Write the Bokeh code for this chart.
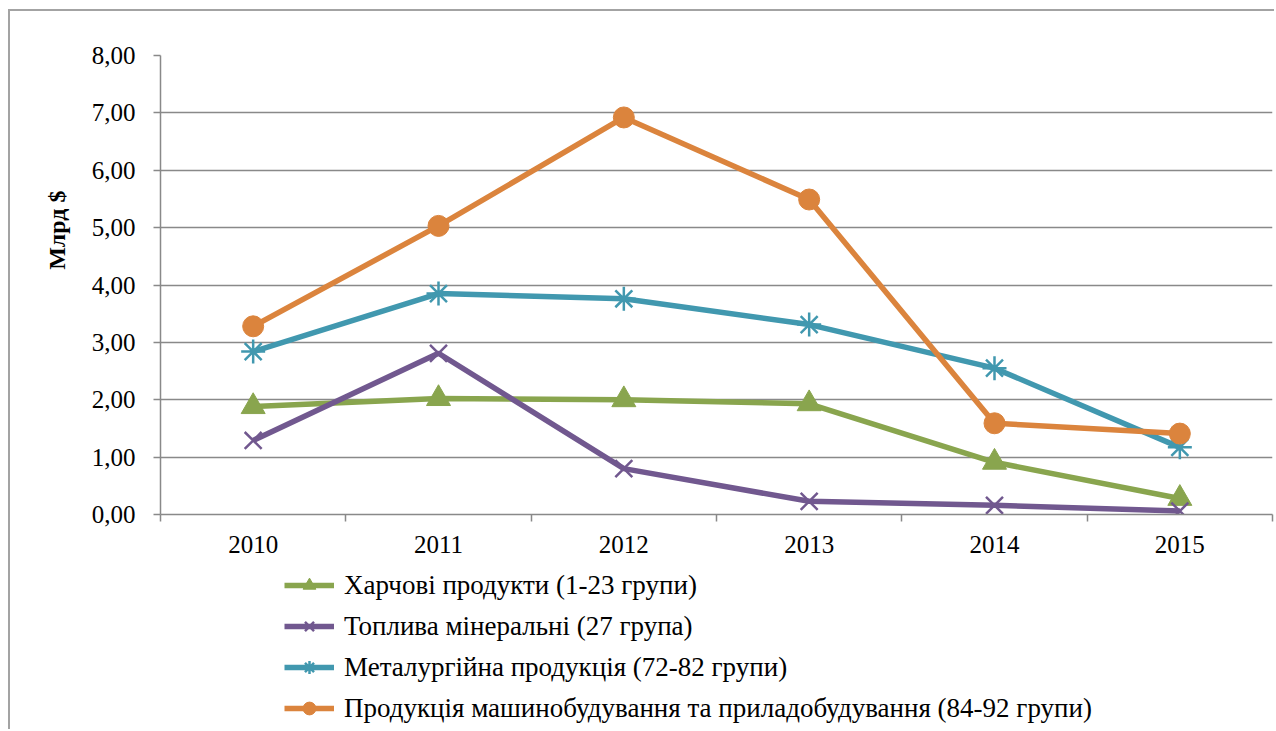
from bokeh.plotting import figure
from bokeh.models import FixedTicker, Legend, LegendItem, Title
from bokeh.layouts import column
from bokeh.embed import file_html
from bokeh.resources import INLINE

years = ["2010", "2011", "2012", "2013", "2014", "2015"]
food = [1.88, 2.02, 2.00, 1.93, 0.91, 0.28]
fuel = [1.29, 2.81, 0.80, 0.23, 0.16, 0.06]
metal = [2.84, 3.85, 3.76, 3.31, 2.55, 1.17]
machinery = [3.28, 5.03, 6.92, 5.49, 1.59, 1.41]
y_ticks = [0, 1, 2, 3, 4, 5, 6, 7, 8]
y_tick_labels = ["0,00", "1,00", "2,00", "3,00", "4,00", "5,00", "6,00", "7,00", "8,00"]
series_names = ["Харчові продукти (1-23 групи)",
                "Топлива мінеральні (27 група)",
                "Металургійна продукція (72-82 групи)",
                "Продукція машинобудування та приладобудування (84-92 групи)"]
y_label = "Млрд $"

FONT = "Liberation Serif"
GRAY = "#898989"

W = 1264
H1, H2 = 555, 163
left, top, bottom, right = 150, 44, 52, 2
x_idx = list(range(len(years)))

p = figure(width=W, height=H1, output_backend="svg", toolbar_location=None,
           x_range=(-0.5, len(years) - 0.5), y_range=(y_ticks[0], y_ticks[-1]),
           min_border_left=left, min_border_right=right, min_border_top=top,
           min_border_bottom=bottom)
p.outline_line_color = None
p.background_fill_color = "white"

# y axis
p.yaxis.ticker = FixedTicker(ticks=y_ticks, minor_ticks=[])
p.yaxis.major_label_overrides = {t: l for t, l in zip(y_ticks, y_tick_labels)}
p.yaxis.axis_line_color = GRAY
p.yaxis.axis_line_width = 1.5
p.yaxis.major_tick_line_color = GRAY
p.yaxis.major_tick_line_width = 1.5
p.yaxis.major_tick_out = 7
p.yaxis.major_tick_in = 0
p.yaxis.minor_tick_line_color = None
p.yaxis.major_label_text_font = FONT
p.yaxis.major_label_text_font_size = "25px"
p.yaxis.major_label_text_color = "black"
p.yaxis.major_label_standoff = 18

# x axis
p.xaxis.ticker = FixedTicker(ticks=x_idx, minor_ticks=[i - 0.5 for i in x_idx] + [len(years) - 0.5])
p.xaxis.major_label_overrides = {i: y for i, y in zip(x_idx, years)}
p.xaxis.axis_line_color = GRAY
p.xaxis.axis_line_width = 1.5
p.xaxis.major_tick_line_color = None
p.xaxis.major_tick_out = 0
p.xaxis.major_tick_in = 0
p.xaxis.minor_tick_line_color = GRAY
p.xaxis.minor_tick_line_width = 1.5
p.xaxis.minor_tick_out = 7
p.xaxis.minor_tick_in = 0
p.xaxis.major_label_text_font = FONT
p.xaxis.major_label_text_font_size = "25px"
p.xaxis.major_label_text_color = "black"
p.xaxis.major_label_standoff = 14

p.xgrid.grid_line_color = None
p.ygrid.grid_line_color = GRAY
p.ygrid.grid_line_width = 1.5

colors = ["#89A54E", "#71588F", "#4198AF", "#DB843D"]
markers = ["triangle", "x", "asterisk", "circle"]
sizes = [24, 24, 24, 21]
data = [food, fuel, metal, machinery]

# legend-only figure below the chart
p2 = figure(width=W, height=H2, output_backend="svg", toolbar_location=None,
            x_range=(100, 101), y_range=(100, 101),
            min_border=0, x_axis_location=None, y_axis_location=None)
p2.outline_line_color = None
p2.grid.grid_line_color = None

items = []
for name, vals, c, m, s in zip(series_names, data, colors, markers, sizes):
    for fig in (p, p2):
        ln = fig.line(x_idx, vals, line_color=c, line_width=5.5)
        if m in ("x", "asterisk"):
            sc = fig.scatter(x_idx, vals, marker=m, size=s, line_color=c, line_width=2.5, fill_color=c)
        else:
            sc = fig.scatter(x_idx, vals, marker=m, size=s, line_color=c, fill_color=c)
    items.append(LegendItem(label=name, renderers=[ln, sc]))

legend = Legend(items=items, location=(124, 5),
                label_text_font=FONT, label_text_font_size="27px",
                label_text_color="black",
                glyph_width=50, glyph_height=32, label_height=32,
                spacing=9, padding=0, margin=0, label_standoff=10,
                border_line_color=None, background_fill_alpha=0)
p2.add_layout(legend, "center")

title = Title(text=y_label, align="right", offset=135, vertical_align="bottom",
              text_font=FONT, text_font_size="24px", text_font_style="bold",
              text_color="black", standoff=38)
p.add_layout(title, "left")

layout = column(p, p2, spacing=0)
layout.styles = {"margin-left": "8px", "margin-top": "9px",
                 "border-top": "2px solid #a3a3a3", "border-left": "2px solid #a3a3a3"}

open("out.html", "w").write(file_html(layout, INLINE))
